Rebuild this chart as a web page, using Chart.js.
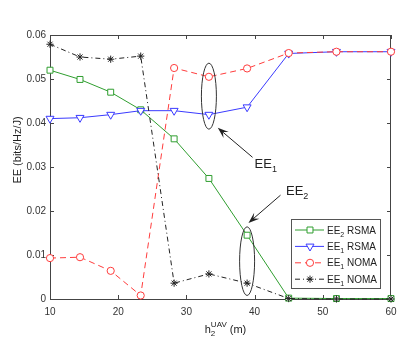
<!DOCTYPE html>
<html>
<head>
<meta charset="utf-8">
<script src="https://cdn.jsdelivr.net/npm/chart.js"></script>
<style>
  body { margin: 0; background: #fff; }
  #wrap { width: 415px; height: 347px; }
</style>
</head>
<body>
<div id="wrap"><canvas id="eeChart" width="415" height="347"></canvas></div>
<script>
// data
const heights = [10, 14.4, 18.9, 23.3, 28.2, 33.3, 38.9, 45, 52, 60];
const ee2Rsma = [0.052, 0.0499, 0.047, 0.043, 0.0364, 0.0274, 0.0145, 0.0002, 0.0001, 0.0001];
const ee1Rsma = [0.041, 0.0412, 0.0419, 0.0428, 0.0428, 0.0419, 0.0436, 0.0558, 0.0562, 0.0562];
const ee1NomaRed = [0.0093, 0.0095, 0.0064, 0.0008, 0.0525, 0.0505, 0.0524, 0.0559, 0.0562, 0.0562];
const ee1NomaBlack = [0.0579, 0.055, 0.0545, 0.0552, 0.0036, 0.0057, 0.0036, 0.0001, 0, 0];
const xTicks = [10, 20, 30, 40, 50, 60];
const yTicks = [0, 0.01, 0.02, 0.03, 0.04, 0.05, 0.06];

const FONT = '"Liberation Sans", Arial, Helvetica, sans-serif';
const green = '#2f9e2f';
const blue = '#3a3aff';
const red = '#ff3c3c';
const black = '#222222';

function toPoints(ys) {
    return heights.map((x, i) => ({ x: x, y: ys[i] }));
}

// series styling, legend uses the same list
const series = [
    { label: [['EE', 0], ['2', 1], [' RSMA', 0]], data: ee2Rsma, color: green, dash: [], marker: 'rect', radius: 4.2, order: 3 },
    { label: [['EE', 0], ['1', 1], [' RSMA', 0]], data: ee1Rsma, color: blue, dash: [], marker: 'triangle', radius: 4.6, order: 2 },
    { label: [['EE', 0], ['1', 1], [' NOMA', 0]], data: ee1NomaRed, color: red, dash: [6, 4], marker: 'circle', radius: 3.6, order: 1 },
    { label: [['EE', 0], ['1', 1], [' NOMA', 0]], data: ee1NomaBlack, color: black, dash: [5, 3, 1, 3], marker: 'star', radius: 3.6, order: 0 }
];

// draw text with subscripts / superscripts: parts = [[text, 0 normal | 1 sub | 2 sup]]
function richText(ctx, parts, x, y, size, align) {
    const small = Math.round(size * 0.72);
    let total = 0;
    parts.forEach(p => {
        ctx.font = (p[1] ? small : size) + 'px ' + FONT;
        total += ctx.measureText(p[0]).width;
    });
    let cx = align === 'center' ? x - total / 2 : x;
    ctx.textAlign = 'left';
    ctx.textBaseline = 'alphabetic';
    parts.forEach(p => {
        ctx.font = (p[1] ? small : size) + 'px ' + FONT;
        let dy = 0;
        if (p[1] === 1) dy = size * 0.3;
        if (p[1] === 2) dy = -size * 0.45;
        ctx.fillText(p[0], cx, y + dy);
        cx += ctx.measureText(p[0]).width;
    });
}

function drawMarker(ctx, type, x, y, r, color) {
    ctx.save();
    ctx.strokeStyle = color;
    ctx.fillStyle = '#fff';
    ctx.lineWidth = 1;
    ctx.setLineDash([]);
    ctx.beginPath();
    if (type === 'rect') {
        const s = r * Math.SQRT1_2;
        ctx.rect(x - s, y - s, 2 * s, 2 * s);
        ctx.fill();
    } else if (type === 'triangle') {
        ctx.moveTo(x - r * 0.866, y - r * 0.5);
        ctx.lineTo(x + r * 0.866, y - r * 0.5);
        ctx.lineTo(x, y + r);
        ctx.closePath();
        ctx.fill();
    } else if (type === 'circle') {
        ctx.arc(x, y, r, 0, Math.PI * 2);
        ctx.fill();
    } else {
        for (let a = 0; a < 4; a++) {
            const ang = a * Math.PI / 4;
            ctx.moveTo(x - Math.cos(ang) * r, y - Math.sin(ang) * r);
            ctx.lineTo(x + Math.cos(ang) * r, y + Math.sin(ang) * r);
        }
    }
    ctx.stroke();
    ctx.restore();
}

// annotation ellipses / arrows / labels, in data units
const ellipses = [
    { x: 33.3, y: 0.0461, rx: 1.1, ry: 0.0075 },
    { x: 38.9, y: 0.0086, rx: 1.1, ry: 0.0078 }
];
const arrows = [
    { from: [39.7, 0.0322], to: [34.6, 0.0389] },
    { from: [43.8, 0.0236], to: [39.1, 0.0173] }
];
const notes = [
    { x: 40.0, y: 0.0297, text: [['EE', 0], ['1', 1]] },
    { x: 44.6, y: 0.0236, text: [['EE', 0], ['2', 1]] }
];

function drawAxisX(ctx, cx, y) {
    // h_2^UAV (m)
    const size = 11, small = 8;
    ctx.font = size + 'px ' + FONT;
    const wh = ctx.measureText('h').width;
    ctx.font = small + 'px ' + FONT;
    const wsup = ctx.measureText('UAV').width;
    ctx.font = size + 'px ' + FONT;
    const wm = ctx.measureText(' (m)').width;
    let x = cx - (wh + wsup + wm) / 2;
    ctx.textAlign = 'left';
    ctx.textBaseline = 'alphabetic';
    ctx.fillText('h', x, y);
    x += wh;
    ctx.font = small + 'px ' + FONT;
    ctx.fillText('2', x, y + 3);
    ctx.fillText('UAV', x, y - 6);
    x += wsup;
    ctx.font = size + 'px ' + FONT;
    ctx.fillText(' (m)', x, y);
}

const framePlugin = {
    id: 'frame',
    beforeDatasetsDraw(chart) {
        const { ctx, chartArea: a, scales } = chart;
        ctx.save();
        ctx.strokeStyle = '#444';
        ctx.lineWidth = 1;
        ctx.strokeRect(a.left + 0.5, a.top + 0.5, a.right - a.left - 1, a.bottom - a.top);
        ctx.beginPath();
        xTicks.forEach(v => {
            const px = Math.round(scales.x.getPixelForValue(v)) + 0.5;
            ctx.moveTo(px, a.bottom); ctx.lineTo(px, a.bottom - 4);
            ctx.moveTo(px, a.top); ctx.lineTo(px, a.top + 4);
        });
        yTicks.forEach(v => {
            const py = Math.round(scales.y.getPixelForValue(v)) + 0.5;
            ctx.moveTo(a.left, py); ctx.lineTo(a.left + 4, py);
            ctx.moveTo(a.right, py); ctx.lineTo(a.right - 4, py);
        });
        ctx.stroke();
        ctx.restore();
    },
    afterDraw(chart) {
        const { ctx, chartArea: a, scales } = chart;
        const sx = scales.x, sy = scales.y;
        ctx.save();

        // axis titles
        ctx.fillStyle = '#222';
        drawAxisX(ctx, (a.left + a.right) / 2 + 5, 333);
        ctx.save();
        ctx.translate(18, 150);
        ctx.rotate(-Math.PI / 2);
        ctx.font = '11px ' + FONT;
        ctx.textAlign = 'center';
        ctx.textBaseline = 'middle';
        ctx.fillText('EE (bits/Hz/J)', 0, 0);
        ctx.restore();

        // ellipses
        ctx.strokeStyle = '#333';
        ctx.lineWidth = 1;
        ellipses.forEach(e => {
            const cx = sx.getPixelForValue(e.x), cy = sy.getPixelForValue(e.y);
            const rx = Math.abs(sx.getPixelForValue(e.x + e.rx) - cx);
            const ry = Math.abs(sy.getPixelForValue(e.y + e.ry) - cy);
            ctx.beginPath();
            ctx.ellipse(cx, cy, rx, ry, 0, 0, Math.PI * 2);
            ctx.stroke();
        });

        // arrows
        arrows.forEach(ar => {
            const x1 = sx.getPixelForValue(ar.from[0]), y1 = sy.getPixelForValue(ar.from[1]);
            const x2 = sx.getPixelForValue(ar.to[0]), y2 = sy.getPixelForValue(ar.to[1]);
            const ang = Math.atan2(y2 - y1, x2 - x1);
            const len = 11, wid = 4;
            ctx.strokeStyle = '#222';
            ctx.beginPath();
            ctx.moveTo(x1, y1);
            ctx.lineTo(x2 - Math.cos(ang) * 6, y2 - Math.sin(ang) * 6);
            ctx.stroke();
            const bx = x2 - Math.cos(ang) * len, by = y2 - Math.sin(ang) * len;
            const mx = x2 - Math.cos(ang) * len * 0.6, my = y2 - Math.sin(ang) * len * 0.6;
            ctx.fillStyle = '#222';
            ctx.beginPath();
            ctx.moveTo(x2, y2);
            ctx.lineTo(bx + Math.sin(ang) * wid, by - Math.cos(ang) * wid);
            ctx.lineTo(mx, my);
            ctx.lineTo(bx - Math.sin(ang) * wid, by + Math.cos(ang) * wid);
            ctx.closePath();
            ctx.fill();
        });

        // notes
        ctx.fillStyle = '#222';
        notes.forEach(n => {
            richText(ctx, n.text, sx.getPixelForValue(n.x), sy.getPixelForValue(n.y), 13, 'left');
        });

        // legend
        const lx = 291, ly = 219, lw = 89, lh = 69;
        ctx.fillStyle = '#fff';
        ctx.fillRect(lx, ly, lw, lh);
        ctx.strokeStyle = '#555';
        ctx.strokeRect(lx + 0.5, ly + 0.5, lw, lh);
        series.forEach((s, i) => {
            const y = 230 + i * 16.4;
            ctx.save();
            ctx.strokeStyle = s.color;
            ctx.lineWidth = 1;
            ctx.setLineDash(s.dash);
            ctx.beginPath();
            ctx.moveTo(295, y);
            ctx.lineTo(324, y);
            ctx.stroke();
            ctx.restore();
            drawMarker(ctx, s.marker, 310, y, s.radius, s.color);
            ctx.fillStyle = '#222';
            richText(ctx, s.label, 327, y + 3.5, 10, 'left');
        });
        ctx.restore();
    }
};

const ctx = document.getElementById('eeChart').getContext('2d');
new Chart(ctx, {
    type: 'line',
    data: {
        datasets: series.map(s => ({
            data: toPoints(s.data),
            borderColor: s.color,
            backgroundColor: '#fff',
            borderWidth: 1,
            borderDash: s.dash,
            pointStyle: s.marker,
            pointRadius: s.radius,
            pointRotation: s.marker === 'triangle' ? 180 : 0,
            pointBorderColor: s.color,
            pointBackgroundColor: '#fff',
            pointBorderWidth: 1,
            tension: 0,
            fill: false,
            clip: false,
            order: s.order
        }))
    },
    options: {
        responsive: false,
        animation: false,
        devicePixelRatio: 1,
        layout: { padding: { top: 35, right: 24, left: 0, bottom: 0 } },
        plugins: {
            legend: { display: false },
            tooltip: { enabled: false }
        },
        scales: {
            x: {
                type: 'linear',
                min: 10,
                max: 60,
                afterFit: s => { s.height = 48; },
                afterBuildTicks: s => { s.ticks = xTicks.map(v => ({ value: v })); },
                grid: { display: false, drawTicks: false },
                border: { display: false },
                ticks: { padding: 7, color: '#333', font: { size: 10, family: FONT }, maxRotation: 0 }
            },
            y: {
                type: 'linear',
                min: 0,
                max: 0.06,
                afterFit: s => { s.width = 50; },
                afterBuildTicks: s => { s.ticks = yTicks.map(v => ({ value: v })); },
                grid: { display: false, drawTicks: false },
                border: { display: false },
                ticks: {
                    padding: 4,
                    color: '#333',
                    font: { size: 10, family: FONT },
                    callback: v => v === 0 ? '0' : (Math.round(v * 100) / 100).toFixed(2)
                }
            }
        }
    },
    plugins: [framePlugin]
});
</script>
</body>
</html>
